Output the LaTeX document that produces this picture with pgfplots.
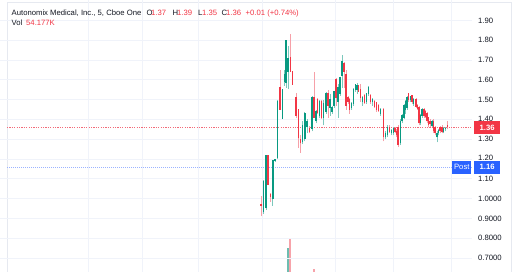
\documentclass[border=0pt]{standalone}
\usepackage{pgfplots}
\usepackage{pgfplotstable}
\pgfplotsset{compat=1.18}
\usepackage{fontspec}
\setmainfont{Liberation Sans}
\definecolor{tvred}{HTML}{F23645}
\definecolor{tvgreen}{HTML}{089981}
\definecolor{redwick}{HTML}{F6A0A8}
\definecolor{greenwick}{HTML}{7CC8BC}
\definecolor{gridc}{HTML}{F0F3FA}
\definecolor{framec}{HTML}{E6E9F0}
\definecolor{txt}{HTML}{131722}
\definecolor{tvblue}{HTML}{2962FF}
\definecolor{bluedot}{HTML}{9BB3FF}
\definecolor{reddot}{HTML}{F26A78}
\definecolor{volred}{HTML}{F7A3AA}
\definecolor{volgreen}{HTML}{6DBDB0}

\pgfplotstableread{
x o h l c
263.5 0.935 1.094 0.925 1.085
266 0.952 1.22 0.945 1.22
272.7 0.998 1.19 0.965 1.19
275 1.19 1.198 1.186 1.195
277.5 1.205 1.50 1.20 1.49
282.3 1.405 1.55 1.40 1.55
284.5 1.59 1.65 1.57 1.625
286 1.584 1.80 1.56 1.80
288 1.64 1.77 1.555 1.71
302.5 1.285 1.39 1.275 1.37
304.8 1.30 1.44 1.29 1.43
307 1.36 1.40 1.33 1.39
312 1.35 1.52 1.34 1.51
316 1.39 1.45 1.38 1.44
319.5 1.42 1.50 1.41 1.49
323.5 1.41 1.50 1.37 1.48
326 1.44 1.54 1.43 1.53
330 1.46 1.53 1.42 1.50
332 1.44 1.47 1.43 1.46
334 1.47 1.54 1.46 1.54
338 1.49 1.58 1.41 1.56
340 1.53 1.615 1.52 1.61
342 1.62 1.726 1.56 1.69
351.5 1.46 1.49 1.45 1.48
353.5 1.48 1.56 1.47 1.55
355.5 1.55 1.58 1.54 1.575
357 1.55 1.585 1.53 1.57
362.5 1.49 1.52 1.47 1.51
366.5 1.49 1.53 1.48 1.53
368.5 1.53 1.57 1.52 1.56
372.5 1.49 1.51 1.47 1.50
380.5 1.43 1.46 1.42 1.45
385.5 1.31 1.34 1.30 1.33
387.5 1.32 1.37 1.31 1.36
391.5 1.33 1.35 1.32 1.345
393.5 1.33 1.36 1.32 1.355
400.5 1.28 1.40 1.27 1.39
402 1.39 1.43 1.38 1.42
404 1.41 1.48 1.40 1.47
405.5 1.45 1.50 1.43 1.49
407 1.46 1.52 1.45 1.51
410.5 1.50 1.52 1.49 1.515
413.5 1.48 1.51 1.47 1.50
420.5 1.38 1.43 1.37 1.42
422 1.42 1.46 1.41 1.45
432 1.365 1.395 1.36 1.39
437 1.31 1.34 1.285 1.33
438.5 1.33 1.35 1.32 1.345
443.5 1.335 1.36 1.33 1.355
445.5 1.35 1.36 1.34 1.355
}\greentbl

\pgfplotstableread{
x o h l c
261 0.972 1.012 0.912 0.962
268 1.22 1.222 1.07 1.07
270.5 1.02 1.028 0.985 1.008
280 1.56 1.65 1.447 1.45
290.3 1.715 1.832 1.64 1.64
292.5 1.64 1.64 1.575 1.575
296 1.51 1.535 1.407 1.42
298.5 1.45 1.45 1.255 1.305
300.5 1.30 1.322 1.231 1.28
309.5 1.355 1.365 1.33 1.335
314 1.51 1.642 1.41 1.41
317.5 1.50 1.51 1.43 1.435
321.5 1.49 1.50 1.40 1.41
328 1.53 1.55 1.41 1.47
336 1.60 1.61 1.47 1.51
344 1.68 1.69 1.56 1.64
346 1.625 1.65 1.45 1.47
348 1.51 1.52 1.48 1.49
349.5 1.50 1.51 1.43 1.45
358.5 1.57 1.575 1.54 1.54
360.5 1.55 1.58 1.49 1.51
364.5 1.52 1.53 1.48 1.485
370.5 1.52 1.53 1.48 1.49
374.5 1.49 1.50 1.46 1.465
376.5 1.485 1.49 1.44 1.45
378.5 1.47 1.48 1.44 1.445
383.5 1.45 1.46 1.29 1.31
389.5 1.36 1.37 1.33 1.335
395 1.355 1.36 1.33 1.335
396.5 1.34 1.35 1.31 1.32
398 1.36 1.37 1.26 1.27
408.5 1.53 1.534 1.49 1.50
412 1.52 1.525 1.48 1.49
416 1.50 1.51 1.46 1.465
417.5 1.47 1.48 1.45 1.455
419 1.46 1.47 1.37 1.38
424 1.45 1.46 1.41 1.42
425.5 1.44 1.45 1.41 1.415
427 1.43 1.44 1.38 1.39
428.5 1.41 1.415 1.36 1.37
430 1.39 1.40 1.36 1.375
433.5 1.39 1.40 1.33 1.34
435 1.36 1.365 1.32 1.33
440 1.36 1.365 1.33 1.34
442 1.36 1.37 1.33 1.335
447.5 1.37 1.39 1.35 1.36
}\redtbl

\begin{document}
\begin{tikzpicture}[x=1pt,y=1pt]
\useasboundingbox (0,0) rectangle (520,272);
\fill[white] (0,0) rectangle (520,272);
% panel frame
\draw[framec, line width=0.8pt] (7,0) -- (7,270) -- (511.5,270) -- (511.5,0);
% volume axis
\begin{axis}[
  at={(0,0)}, anchor=south west,
  scale only axis, width=472pt, height=272pt,
  xmin=0, xmax=472, ymin=0, ymax=10,
  hide axis, clip=true]
\addplot[ybar, bar width=1.6pt, fill=volgreen, draw=none] coordinates {(288,0.87)};
\addplot[ybar, bar width=1.6pt, fill=volred, draw=none] coordinates {(290,1.24) (314,0.11)};
\end{axis}
% price axis
\begin{axis}[
  at={(0,0)}, anchor=south west,
  scale only axis, width=472pt, height=272pt,
  xmin=0, xmax=472, ymin=0.6298, ymax=2.0035,
  axis line style={draw=none},
  xtick={88,142,198,262,335,393,451},
  ytick={0.7,0.8,0.9,1.0,1.1,1.2,1.3,1.4,1.5,1.6,1.7,1.8,1.9},
  xticklabels={}, yticklabels={},
  major tick length=0pt,
  grid=major, major grid style={draw=gridc, line width=0.8pt},
  clip=false,
  font=\fontsize{7.7}{9}\selectfont]
% price lines
\addplot[reddot, line width=0.8pt, dash pattern=on 1.2pt off 1.2pt] coordinates {(7,1.36) (472,1.36)};
\addplot[bluedot, line width=1pt, dash pattern=on 1pt off 1pt] coordinates {(7,1.16) (472,1.16)};
% wicks
\addplot[greenwick, line width=0.7pt, quiver={u=0, v=\thisrow{h}-\thisrow{l}}] table[x=x, y=l] {\greentbl};
\addplot[redwick, line width=0.7pt, quiver={u=0, v=\thisrow{h}-\thisrow{l}}] table[x=x, y=l] {\redtbl};
% bodies (bullish: open to close; bearish: close to open)
\addplot[tvgreen, line width=1.6pt, quiver={u=0, v=\thisrow{c}-\thisrow{o}+0.003}] table[x=x, y=o] {\greentbl};
\addplot[tvred, line width=1.6pt, quiver={u=0, v=\thisrow{o}-\thisrow{c}+0.003}] table[x=x, y=c] {\redtbl};
% right price scale
\node[anchor=west, inner sep=0, text=txt] at (axis cs:478,1.9) {1.90};
\node[anchor=west, inner sep=0, text=txt] at (axis cs:478,1.8) {1.80};
\node[anchor=west, inner sep=0, text=txt] at (axis cs:478,1.7) {1.70};
\node[anchor=west, inner sep=0, text=txt] at (axis cs:478,1.6) {1.60};
\node[anchor=west, inner sep=0, text=txt] at (axis cs:478,1.5) {1.50};
\node[anchor=west, inner sep=0, text=txt] at (axis cs:478,1.405) {1.40};
\node[anchor=west, inner sep=0, text=txt] at (axis cs:478,1.3) {1.30};
\node[anchor=west, inner sep=0, text=txt] at (axis cs:478,1.205) {1.20};
\node[anchor=west, inner sep=0, text=txt] at (axis cs:478,1.1) {1.10};
\node[anchor=west, inner sep=0, text=txt] at (axis cs:478,1.0) {1.0000};
\node[anchor=west, inner sep=0, text=txt] at (axis cs:478,0.9) {0.9000};
\node[anchor=west, inner sep=0, text=txt] at (axis cs:478,0.8) {0.8000};
\node[anchor=west, inner sep=0, text=txt] at (axis cs:478,0.7) {0.7000};
\node[anchor=west, fill=tvred, text=white, inner sep=0, minimum width=26pt, minimum height=13pt] at (axis cs:474,1.36) {\bfseries 1.36};
\node[anchor=west, fill=tvblue, text=white, inner sep=0, minimum width=26pt, minimum height=13pt] at (axis cs:474,1.16) {\bfseries 1.16};
\node[anchor=east, fill=tvblue, text=white, inner sep=0, minimum width=19pt, minimum height=13pt] at (axis cs:471.5,1.16) {Post};
\end{axis}
% header
\begin{scope}[every node/.style={anchor=base west, inner sep=0, font=\fontsize{7.7}{9}\selectfont}]
\node[text=txt] at (11.5,256) {Autonomix Medical, Inc., 5, Cboe One};
\node[text=txt] at (146.5,256) {O};
\node[text=tvred] at (151,256) {1.37};
\node[text=txt] at (172.5,256) {H};
\node[text=tvred] at (177,256) {1.39};
\node[text=txt] at (198,256) {L};
\node[text=tvred] at (202,256) {1.35};
\node[text=txt] at (221.5,256) {C};
\node[text=tvred] at (226,256) {1.36};
\node[text=tvred] at (245.5,256) {+0.01 (+0.74\%)};
\node[text=txt] at (11.5,246) {Vol};
\node[text=tvred] at (26,246) {54.177K};
\end{scope}
\end{tikzpicture}
\end{document}
